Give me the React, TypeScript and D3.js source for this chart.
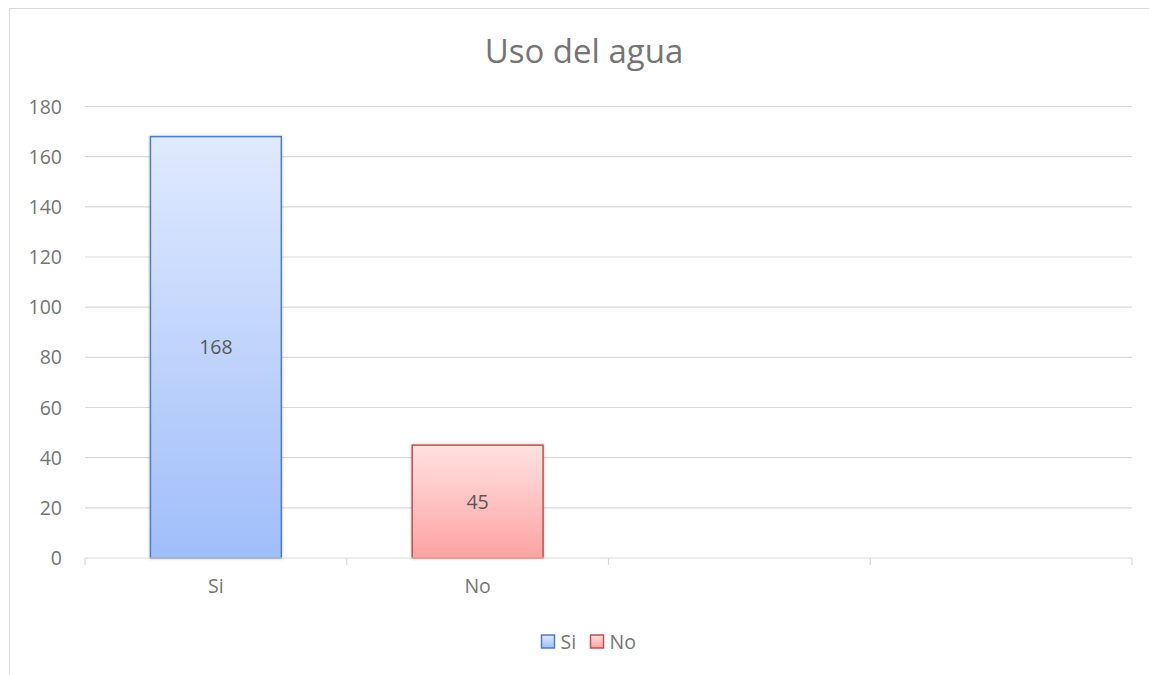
import React from "react";
import * as d3 from "d3";

const categories = ["Si", "No", "", ""];
const seriesNames = ["Si", "No"];
const values = [168, 45];
const yTicks = [0, 20, 40, 60, 80, 100, 120, 140, 160, 180];
const title = "Uso del agua";

const W = 1149;
const H = 675;
const left = 85;
const right = 1132;
const top = 106.5;
const bottom = 558;

const palettes = [
  { top: "#e0eafe", bottom: "#a0befa", stroke: "#4f7fc0" },
  { top: "#ffe2e2", bottom: "#ffa2a2", stroke: "#c0504d" },
];

export default function App() {
  const x = d3.scaleBand<string>().domain(categories.map((c, i) => i + "")).range([left, right]).paddingInner(0).paddingOuter(0);
  const y = d3.scaleLinear().domain([0, 180]).range([bottom, top]);
  const bw = x.bandwidth();
  const barW = bw / 2;
  const font = "'Open Sans', Lato, sans-serif";
  const boundaries = d3.range(categories.length + 1).map((i) => left + i * bw);

  return (
    <svg width={W} height={H} style={{ position: "absolute", left: 0, top: 0 }} fontFamily={font}>
      <defs>
        {palettes.map((p, i) => (
          <linearGradient key={i} id={"g" + i} x1="0" y1="0" x2="0" y2="1">
            <stop offset="0" stopColor={p.top} />
            <stop offset="1" stopColor={p.bottom} />
          </linearGradient>
        ))}
        <filter id="sh" x="-10%" y="-10%" width="120%" height="120%">
          <feDropShadow dx="0" dy="0" stdDeviation="1.5" floodColor="#000" floodOpacity="0.25" />
        </filter>
      </defs>
      <rect x={0} y={0} width={W} height={H} fill="#fff" />
      <path d={`M9.5,${H} V8.5 H${W}`} fill="none" stroke="#d9d9d9" strokeWidth={1} />
      <text x={584} y={63} textAnchor="middle" fontSize={33} fill="#757575">{title}</text>
      {yTicks.map((t) => (
        <g key={t}>
          {t !== 0 && <line x1={left} x2={right} y1={y(t)} y2={y(t)} stroke="#d9d9d9" strokeWidth={1.2} />}
          <text x={62} y={y(t) + 7} textAnchor="end" fontSize={19.5} fill="#757575">{t}</text>
        </g>
      ))}
      {values.map((v, i) => {
        const cx = (x(i + "") as number) + bw / 2;
        const p = palettes[i];
        return (
          <g key={i}>
            <rect x={cx - barW / 2} y={y(v)} width={barW} height={y(0) - y(v)} fill={`url(#g${i})`} stroke={p.stroke} strokeWidth={1.5} filter="url(#sh)" />
            <text x={cx} y={(y(v) + y(0)) / 2 + 7} textAnchor="middle" fontSize={19.5} fill="#595959">{v}</text>
          </g>
        );
      })}
      <line x1={left} x2={right} y1={bottom} y2={bottom} stroke="#d9d9d9" strokeWidth={1.2} />
      {boundaries.map((b, i) => (
        <line key={i} x1={b} x2={b} y1={bottom} y2={bottom + 7} stroke="#d9d9d9" strokeWidth={1.2} />
      ))}
      {categories.map((c, i) => (
        <text key={i} x={(x(i + "") as number) + bw / 2} y={593} textAnchor="middle" fontSize={19.5} fill="#757575">{c}</text>
      ))}
      {seriesNames.map((s, i) => {
        const lx = i === 0 ? 541.5 : 590.5;
        const p = palettes[i];
        return (
          <g key={s}>
            <rect x={lx} y={635} width={13} height={13} fill={`url(#g${i})`} stroke={p.stroke} strokeWidth={1.5} />
            <text x={lx + 19} y={649} fontSize={19.5} fill="#757575">{s}</text>
          </g>
        );
      })}
    </svg>
  );
}
